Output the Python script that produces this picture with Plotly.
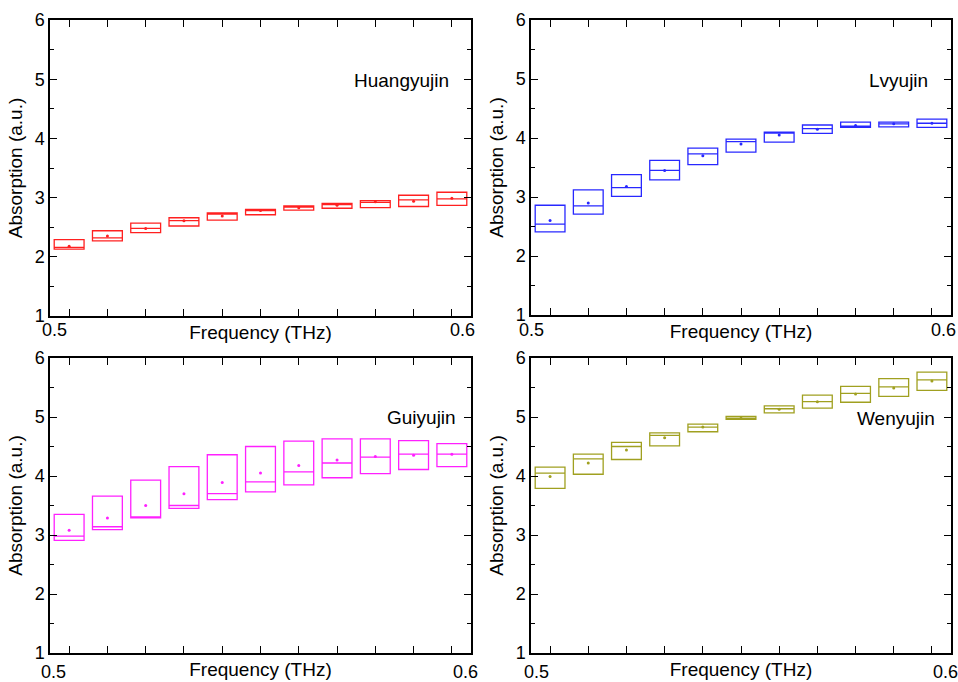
import plotly.graph_objects as go

W, H = 958, 682

freq_slots = 11
freq_labels = ["0.5", "0.6"]

names = ["Huangyujin", "Lvyujin", "Guiyujin", "Wenyujin"]
colors = ["#ff2020", "#2828ff", "#ff20ff", "#a0a020"]

hy_q1 = [2.13, 2.27, 2.41, 2.52, 2.62, 2.71, 2.79, 2.82, 2.83, 2.85, 2.87]
hy_med = [2.16, 2.32, 2.48, 2.61, 2.72, 2.78, 2.84, 2.88, 2.92, 2.96, 2.98]
hy_q3 = [2.29, 2.44, 2.57, 2.66, 2.74, 2.80, 2.86, 2.90, 2.95, 3.04, 3.09]
hy_mean = [2.18, 2.35, 2.48, 2.61, 2.69, 2.78, 2.83, 2.87, 2.93, 2.94, 2.99]

lv_q1 = [2.41, 2.71, 3.01, 3.29, 3.55, 3.76, 3.93, 4.08, 4.18, 4.19, 4.18]
lv_med = [2.54, 2.85, 3.16, 3.45, 3.73, 3.94, 4.09, 4.16, 4.20, 4.24, 4.25]
lv_q3 = [2.86, 3.12, 3.38, 3.62, 3.83, 3.98, 4.10, 4.22, 4.27, 4.27, 4.32]
lv_mean = [2.60, 2.90, 3.18, 3.45, 3.70, 3.90, 4.05, 4.15, 4.21, 4.24, 4.25]

gu_q1 = [2.91, 3.09, 3.29, 3.45, 3.60, 3.73, 3.85, 3.97, 4.04, 4.11, 4.16]
gu_med = [2.98, 3.14, 3.30, 3.50, 3.70, 3.90, 4.07, 4.22, 4.32, 4.37, 4.37]
gu_q3 = [3.35, 3.66, 3.93, 4.16, 4.36, 4.50, 4.59, 4.63, 4.63, 4.60, 4.55]
gu_mean = [3.08, 3.29, 3.50, 3.70, 3.89, 4.05, 4.18, 4.27, 4.33, 4.35, 4.37]

we_q1 = [3.79, 4.03, 4.28, 4.51, 4.75, 4.96, 5.07, 5.15, 5.25, 5.35, 5.45]
we_med = [4.05, 4.29, 4.50, 4.69, 4.83, 4.98, 5.14, 5.26, 5.40, 5.51, 5.63]
we_q3 = [4.15, 4.37, 4.57, 4.73, 4.88, 5.01, 5.19, 5.37, 5.52, 5.65, 5.76]
we_mean = [3.99, 4.22, 4.44, 4.65, 4.83, 4.98, 5.13, 5.26, 5.39, 5.49, 5.61]

data = [
    (hy_q1, hy_med, hy_q3, hy_mean),
    (lv_q1, lv_med, lv_q3, lv_mean),
    (gu_q1, gu_med, gu_q3, gu_mean),
    (we_q1, we_med, we_q3, we_mean),
]

x_lo, x_hi = 0.5, 0.6
slot = (x_hi - x_lo) / freq_slots
xs = [x_lo + (i + 0.5) * slot for i in range(freq_slots)]


def px(x):
    return x / W


def py(y):
    return 1 - y / H


# panel pixel boxes in screenshot coords: left, right, top, bottom
panels = [(50, 471, 20, 316), (531, 951, 20, 315), (50, 471, 358, 653), (531, 951, 358, 653)]
label_pos = [((54, 330), (462, 330), (401, 80)),
             ((531, 330), (943, 330), (898, 80)),
             ((53, 672), (465, 672), (421, 417)),
             ((536, 672), (945, 672), (896, 418))]

FONT = "Liberation Sans, Arial, sans-serif"
fig = go.Figure()
annotations = []

for k in range(4):
    q1, med, q3, mean = data[k]
    sfx = "" if k == 0 else str(k + 1)
    xa, ya = "x" + sfx, "y" + sfx
    fig.add_trace(go.Box(
        x=xs, q1=q1, median=med, q3=q3, lowerfence=q1, upperfence=q3,
        width=slot * 0.78, line=dict(color=colors[k], width=1.3),
        fillcolor="rgba(0,0,0,0)", boxpoints=False, xaxis=xa, yaxis=ya,
        showlegend=False, hoverinfo="skip"))
    fig.add_trace(go.Scatter(
        x=xs, y=mean, mode="markers", xaxis=xa, yaxis=ya,
        marker=dict(color=colors[k], size=3), showlegend=False, hoverinfo="skip"))

    l, r, t, b = panels[k]
    dom_x = [px(l), px(r)]
    dom_y = [py(b), py(t)]
    axis_common = dict(showline=True, linecolor="black", linewidth=1.5, mirror="allticks",
                       showgrid=False, zeroline=False, ticks="inside", automargin=False,
                       tickfont=dict(family=FONT, size=18, color="black"))
    fig.layout["xaxis" + sfx] = dict(
        domain=dom_x, anchor=ya, range=[x_lo, x_hi],
        tickmode="array", tickvals=xs, ticklen=7, tickwidth=1.2, tickcolor="black",
        showticklabels=False,
        title=dict(text="Frequency (THz)", font=dict(family=FONT, size=19, color="black"), standoff=9),
        **axis_common)
    fig.layout["yaxis" + sfx] = dict(
        domain=dom_y, anchor=xa, range=[1, 6], tickmode="linear", tick0=1, dtick=1,
        ticklen=7, tickwidth=1.2, tickcolor="black",
        minor=dict(tickmode="linear", tick0=1.5, dtick=0.5, ticklen=4,
                   tickwidth=1.2, tickcolor="black", ticks="inside"),
        title=dict(text="Absorption (a.u.)", font=dict(family=FONT, size=19, color="black"), standoff=7),
        **axis_common)

    (p5, p6, nm) = label_pos[k]
    for (lx, ly), txt in zip([p5, p6], freq_labels):
        annotations.append(dict(x=px(lx), y=py(ly), xref="paper", yref="paper",
                                text=txt, showarrow=False, xanchor="center", yanchor="middle",
                                font=dict(family=FONT, size=18, color="black")))
    annotations.append(dict(x=px(nm[0]), y=py(nm[1]), xref="paper", yref="paper",
                            text=names[k], showarrow=False, xanchor="center", yanchor="middle",
                            font=dict(family=FONT, size=19, color="black")))

fig.update_layout(width=W, height=H, margin=dict(l=0, r=0, t=0, b=0),
                  paper_bgcolor="white", plot_bgcolor="white", annotations=annotations,
                  boxgap=0, boxgroupgap=0)
fig.write_html("out.html", config={"displayModeBar": False},
               post_script="document.body.style.margin='0';document.body.style.overflow='hidden';")
